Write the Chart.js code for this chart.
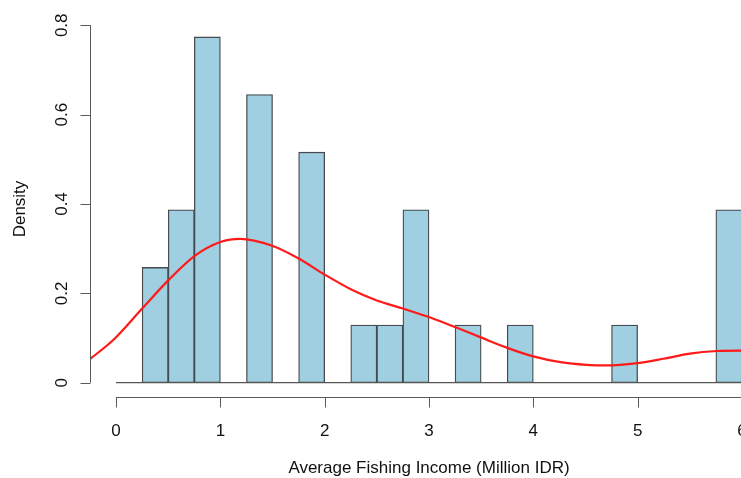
<!DOCTYPE html>
<html>
<head>
<meta charset="utf-8">
<script src="https://cdn.jsdelivr.net/npm/chart.js@4/dist/chart.umd.min.js"></script>
<style>
  html, body { margin: 0; padding: 0; overflow: hidden; background: #fff; }
  #wrap { width: 800px; height: 478px; }
</style>
</head>
<body>
<div id="wrap"><canvas id="hist" width="800" height="478"></canvas></div>
<script>
// histogram bins (left edge of each 0.25 wide bin) and density
var binLeft = [0, 0.25, 0.5, 0.75, 1, 1.25, 1.5, 1.75, 2, 2.25, 2.5, 2.75,
               3, 3.25, 3.5, 3.75, 4, 4.25, 4.5, 4.75, 5, 5.25, 5.5, 5.75];
var density = [0, 0.258, 0.387, 0.774, 0, 0.645, 0, 0.516, 0, 0.129, 0.129, 0.387,
               0, 0.129, 0, 0.129, 0, 0, 0, 0.129, 0, 0, 0, 0.387];
var binWidth = 0.25;

// kernel density curve
var kdeX = [-0.25, -0.03, 0.25, 0.5, 0.76, 1.0, 1.19, 1.49, 1.75, 2.0, 2.26, 2.5, 2.75,
            3.0, 3.25, 3.49, 3.75, 4.0, 4.26, 4.51, 4.7, 5.0, 5.25, 5.5, 5.76, 5.98, 6.25];
var kdeY = [0.053, 0.095, 0.166, 0.229, 0.285, 0.315, 0.322, 0.307, 0.278, 0.242, 0.208, 0.184, 0.166,
            0.147, 0.1245, 0.102, 0.078, 0.059, 0.046, 0.040, 0.0387, 0.044, 0.0537, 0.065, 0.071, 0.072, 0.066];

var xTicks = [0, 1, 2, 3, 4, 5, 6];
var yTicks = [0, 0.2, 0.4, 0.6, 0.8];
var yTickLabels = ["0", "0.2", "0.4", "0.6", "0.8"];

var xTitle = "Average Fishing Income (Million IDR)";
var yTitle = "Density";

var FONT = '17px "Liberation Sans", Arial, Helvetica, sans-serif';
var AXIS = "#5a5a5a";

// R style axes: detached, only as long as the tick range
var rAxes = {
  id: "rAxes",
  afterDraw: function(chart) {
    var ctx = chart.ctx;
    var xs = chart.scales.x, ys = chart.scales.y;
    var area = chart.chartArea;
    ctx.save();
    ctx.strokeStyle = AXIS;
    ctx.lineWidth = 1;

    // x axis
    var ax = Math.round(area.bottom) + 0.5;
    ctx.beginPath();
    ctx.moveTo(xs.getPixelForValue(xTicks[0]), ax);
    ctx.lineTo(xs.getPixelForValue(xTicks[xTicks.length - 1]), ax);
    for (var i = 0; i < xTicks.length; i++) {
      var px = Math.round(xs.getPixelForValue(xTicks[i])) + 0.5;
      ctx.moveTo(px, ax);
      ctx.lineTo(px, ax + 10);
    }
    ctx.stroke();

    // y axis
    var ay = Math.round(area.left) + 0.5;
    ctx.beginPath();
    ctx.moveTo(ay, ys.getPixelForValue(yTicks[0]));
    ctx.lineTo(ay, ys.getPixelForValue(yTicks[yTicks.length - 1]));
    for (var j = 0; j < yTicks.length; j++) {
      var py = Math.round(ys.getPixelForValue(yTicks[j])) + 0.5;
      ctx.moveTo(ay, py);
      ctx.lineTo(ay - 10, py);
    }
    ctx.stroke();

    ctx.fillStyle = "#111";
    ctx.font = FONT;
    ctx.textAlign = "center";
    ctx.textBaseline = "alphabetic";
    for (var k = 0; k < xTicks.length; k++) {
      ctx.fillText(String(xTicks[k]), xs.getPixelForValue(xTicks[k]), ax + 38);
    }
    for (var m = 0; m < yTicks.length; m++) {
      ctx.save();
      ctx.translate(ay - 23.5, ys.getPixelForValue(yTicks[m]));
      ctx.rotate(-Math.PI / 2);
      ctx.fillText(yTickLabels[m], 0, 0);
      ctx.restore();
    }

    // titles
    ctx.fillText(xTitle, (area.left + area.right) / 2, 473);
    ctx.save();
    ctx.translate(24.5, (ys.getPixelForValue(0) + ys.getPixelForValue(0.8)) / 2 + 5);
    ctx.rotate(-Math.PI / 2);
    ctx.fillText(yTitle, 0, 0);
    ctx.restore();
    ctx.restore();
  }
};

function init() {
  var bars = [];
  for (var i = 0; i < binLeft.length; i++) {
    bars.push({ x: binLeft[i] + binWidth / 2, y: density[i] });
  }
  var curve = [];
  for (var j = 0; j < kdeX.length; j++) {
    curve.push({ x: kdeX[j], y: kdeY[j] });
  }
  var base = [{ x: binLeft[0], y: 0 }, { x: binLeft[binLeft.length - 1] + binWidth, y: 0 }];

  new Chart(document.getElementById("hist"), {
    type: "bar",
    data: {
      datasets: [
        {
          type: "line",
          data: curve,
          borderColor: "#ff1a1a",
          borderWidth: 2.2,
          pointRadius: 0,
          cubicInterpolationMode: "monotone",
          order: 0
        },
        {
          type: "line",
          data: base,
          borderColor: "#555",
          borderWidth: 1.2,
          pointRadius: 0,
          order: 1
        },
        {
          type: "bar",
          data: bars,
          backgroundColor: "#9fcfe0",
          borderColor: "#454b4e",
          borderWidth: 1.3,
          borderSkipped: false,
          barPercentage: 1,
          categoryPercentage: 1,
          order: 2
        }
      ]
    },
    options: {
      responsive: false,
      animation: false,
      layout: { padding: { left: 90, top: 11, right: 32, bottom: 81 } },
      plugins: { legend: { display: false }, tooltip: { enabled: false } },
      scales: {
        x: { type: "linear", min: -0.25, max: 6.25, offset: false, display: false },
        y: { type: "linear", min: -0.032, max: 0.832, display: false }
      }
    },
    plugins: [rAxes]
  });
}
window.addEventListener("load", init);
</script>
</body>
</html>
